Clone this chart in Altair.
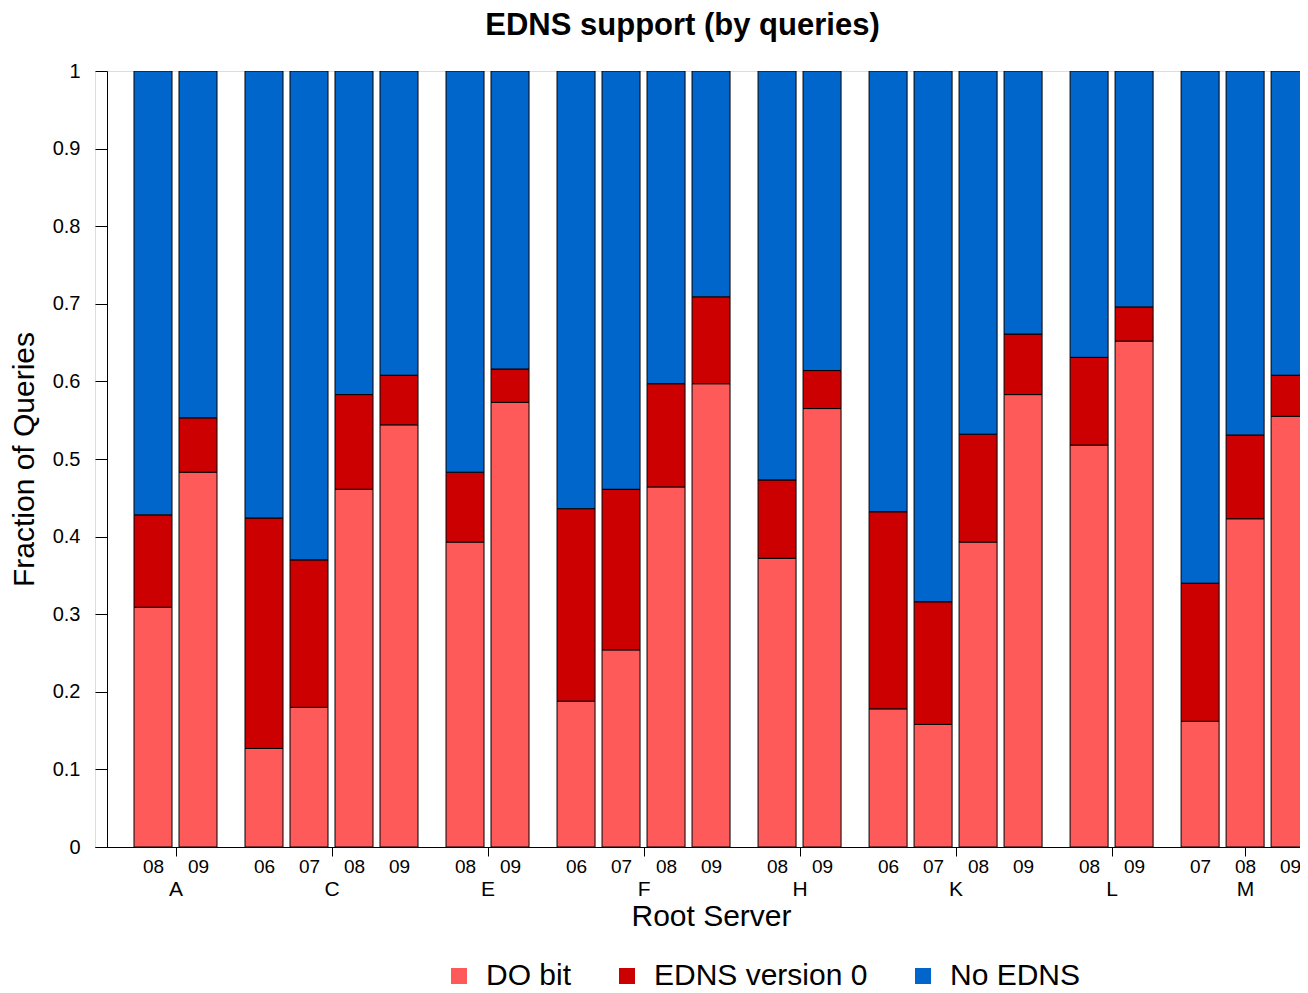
import altair as alt
import pandas as pd

# ---- data ----
servers = ["A", "C", "E", "F", "H", "K", "L", "M"]
bar_server = ["A", "A", "C", "C", "C", "C", "E", "E", "F", "F", "F", "F",
              "H", "H", "K", "K", "K", "K", "L", "L", "M", "M", "M"]
bar_year = ["08", "09", "06", "07", "08", "09", "08", "09", "06", "07", "08", "09",
            "08", "09", "06", "07", "08", "09", "08", "09", "07", "08", "09"]
do_bit = [0.309, 0.483, 0.127, 0.180, 0.461, 0.544, 0.393, 0.573, 0.188, 0.254, 0.464, 0.597,
          0.372, 0.565, 0.178, 0.158, 0.393, 0.583, 0.518, 0.652, 0.162, 0.423, 0.555]
edns_v0 = [0.119, 0.070, 0.297, 0.190, 0.122, 0.064, 0.090, 0.043, 0.248, 0.207, 0.133, 0.112,
           0.101, 0.049, 0.254, 0.158, 0.139, 0.078, 0.113, 0.044, 0.178, 0.108, 0.053]
no_edns = [0.572, 0.447, 0.576, 0.630, 0.417, 0.392, 0.517, 0.384, 0.564, 0.539, 0.403, 0.291,
           0.527, 0.386, 0.568, 0.684, 0.468, 0.339, 0.369, 0.304, 0.660, 0.469, 0.392]
categories = ["DO bit", "EDNS version 0", "No EDNS"]
colors = ["#FF5A5A", "#CC0000", "#0066CC"]
y_ticks = [0, 0.1, 0.2, 0.3, 0.4, 0.5, 0.6, 0.7, 0.8, 0.9, 1]

# ---- slot positions (bar index plus extra gap between server groups) ----
GROUP_GAP = 0.467
positions = []
for i, s in enumerate(bar_server):
    g = servers.index(s)
    positions.append(round(i + g * GROUP_GAP, 3))

centers = []
for s in servers:
    ps = [p for p, b in zip(positions, bar_server) if b == s]
    centers.append(round(sum(ps) / len(ps), 3))

rows = []
for p, s, yv, a, b, c in zip(positions, bar_server, bar_year, do_bit, edns_v0, no_edns):
    for k, (cat, v) in enumerate(zip(categories, [a, b, c])):
        rows.append({"pos": p, "server": s, "year": yv, "category": cat, "value": v, "order": k})
df = pd.DataFrame(rows)
cdf = pd.DataFrame({"center": centers, "server": servers})

FONT = "Liberation Sans"
PLOT_W, PLOT_H = 1205, 776
x_domain = [-58 / 45, -58 / 45 + PLOT_W / 45]
xscale = alt.Scale(domain=x_domain, nice=False, zero=False, padding=0)

year_expr = "[" + ",".join("'%s'" % y for y in bar_year) + "][indexof([" + \
    ",".join(repr(p) for p in positions) + "], datum.value)]"
server_expr = "[" + ",".join("'%s'" % s for s in servers) + "][indexof([" + \
    ",".join(repr(c) for c in centers) + "], datum.value)]"

year_axis = alt.Axis(values=positions, labelExpr=year_expr, orient="bottom", ticks=False,
                     tickSize=0, domain=True, domainColor="black", domainWidth=1,
                     labelFontSize=19, labelFont=FONT, labelColor="black", labelPadding=10,
                     labelOverlap=False, labelFlush=False, grid=False, title=None)
server_axis = alt.Axis(values=centers, labelExpr=server_expr, orient="bottom", ticks=True,
                       tickSize=9, tickColor="black", tickWidth=1, domain=False,
                       labelFontSize=21, labelFont=FONT, labelColor="black", labelPadding=22,
                       labelOverlap=False, labelFlush=False, grid=False,
                       title="Root Server", titleFontSize=30, titleFont=FONT,
                       titleFontWeight="normal", titleColor="black", titlePadding=2,
                       titleX=616)
y_axis = alt.Axis(values=y_ticks, format="~g", offset=-12, tickSize=12, tickColor="black",
                  domainColor="black", labelFontSize=20, labelFont=FONT, labelColor="black",
                  labelPadding=15, grid=False, title="Fraction of Queries", titleFontSize=30,
                  titleFont=FONT, titleFontWeight="normal", titleColor="black", titlePadding=13)

legend = alt.Legend(orient="none", legendX=349, legendY=890, direction="horizontal", title=None,
                    symbolType="square", symbolSize=256, symbolStrokeWidth=0, labelFontSize=30,
                    labelFont=FONT, labelColor="black", labelOffset=12, columnPadding=40,
                    labelLimit=0, padding=0)

bars = alt.Chart(df).mark_bar(size=38, stroke="black", strokeWidth=1, clip=True).encode(
    x=alt.X("pos:Q", scale=xscale, axis=year_axis),
    y=alt.Y("value:Q", stack="zero", scale=alt.Scale(domain=[0, 1], nice=False), axis=y_axis),
    color=alt.Color("category:N", scale=alt.Scale(domain=categories, range=colors), legend=legend),
    order=alt.Order("order:Q", sort="ascending"),
)

group_ticks = alt.Chart(cdf).mark_rule(opacity=0).encode(
    x=alt.X("center:Q", scale=xscale, axis=server_axis),
)

chart = alt.layer(bars, group_ticks).resolve_axis(x="independent").properties(
    width=PLOT_W, height=PLOT_H,
    title=alt.Title("EDNS support (by queries)", fontSize=31, fontWeight="bold", font=FONT,
                    color="black", anchor="middle", offset=19, dx=-15),
    autosize=alt.AutoSizeParams(type="none"),
    padding={"left": 87, "top": 63, "right": 0, "bottom": 145},
).configure_view(strokeWidth=0).configure(font=FONT)

chart.save("out.html", embed_options={"renderer": "svg", "actions": False})
